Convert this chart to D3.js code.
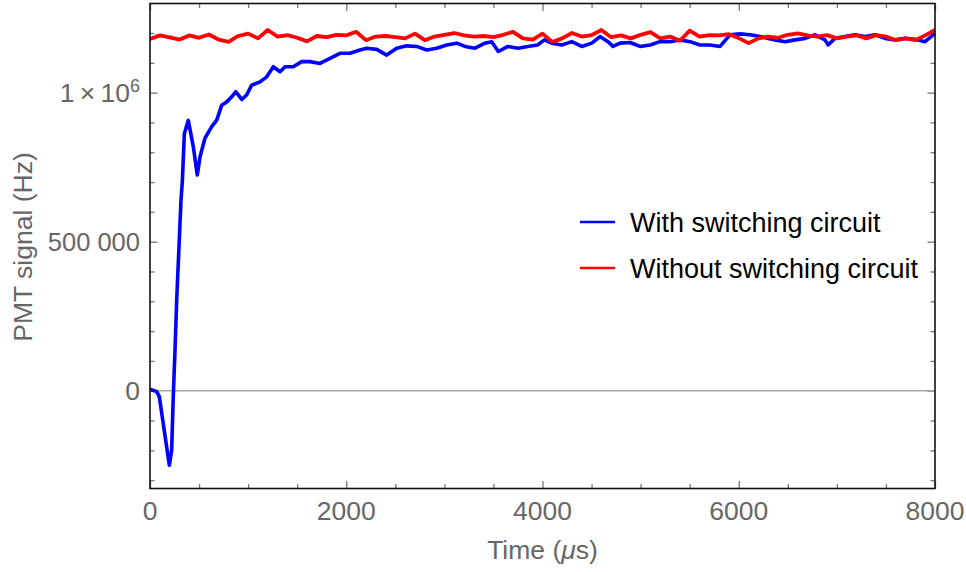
<!DOCTYPE html>
<html>
<head>
<meta charset="utf-8">
<script src="https://cdn.jsdelivr.net/npm/d3@7"></script>
<style>
  body { margin: 0; background: #fff; }
  svg { display: block; font-family: "Liberation Sans", Arial, sans-serif; }
</style>
</head>
<body>
<div id="chart"></div>
<script>
// values
const redTime = d3.range(0, 8001, 100);
const redValue = [1180, 1192, 1185, 1178, 1192, 1184, 1195, 1178, 1170, 1190,
  1198, 1182, 1210, 1188, 1193, 1184, 1172, 1190, 1186, 1194,
  1192, 1204, 1176, 1188, 1190, 1186, 1182, 1198, 1176, 1188,
  1194, 1200, 1192, 1188, 1190, 1186, 1194, 1204, 1182, 1178,
  1198, 1170, 1182, 1200, 1188, 1193, 1210, 1186, 1192, 1182,
  1194, 1203, 1182, 1188, 1174, 1208, 1188, 1193, 1192, 1196,
  1183, 1166, 1182, 1188, 1184, 1194, 1199, 1192, 1188, 1193,
  1182, 1188, 1192, 1182, 1193, 1188, 1176, 1182, 1176, 1192, 1210];

const blueTime = [0, 68, 95, 197, 221, 237, 255, 272, 316, 330, 350, 390, 441, 482, 510, 560,
  629, 680, 731, 782, 833, 873, 935, 985, 1036, 1121, 1189, 1257, 1325, 1376, 1460, 1546,
  1631, 1732, 1834, 1936, 2038, 2140, 2208, 2310, 2412, 2514, 2616, 2718, 2820, 2922,
  3024, 3126, 3210, 3312, 3414, 3482, 3550, 3648, 3750, 3850, 3950, 4020, 4094, 4196,
  4298, 4400, 4502, 4586, 4667, 4718, 4790, 4892, 4994, 5096, 5197, 5299, 5401, 5503,
  5605, 5707, 5809, 5911, 6013, 6115, 6217, 6300, 6369, 6471, 6573, 6675, 6777, 6879,
  6910, 6981, 7083, 7185, 7287, 7389, 7491, 7593, 7695, 7797, 7898, 8000];
const blueValue = [5, -3, -20, -250, -198, -20, 137, 304, 640, 705, 862, 907, 819, 724, 785, 847,
  886, 908, 958, 969, 986, 1003, 977, 992, 1025, 1036, 1053, 1087, 1070, 1087, 1087, 1104,
  1104, 1098, 1115, 1132, 1132, 1143, 1149, 1145, 1126, 1149, 1157, 1155, 1143, 1149,
  1160, 1166, 1155, 1149, 1166, 1171, 1138, 1155, 1149, 1155, 1160, 1177, 1166, 1160,
  1171, 1155, 1166, 1188, 1171, 1155, 1166, 1168, 1155, 1160, 1171, 1171, 1177, 1171,
  1160, 1160, 1155, 1194, 1197, 1194, 1188, 1182, 1177, 1171, 1177, 1182, 1194, 1177,
  1160, 1182, 1188, 1194, 1188, 1194, 1182, 1177, 1182, 1179, 1171, 1199];

const xMajor = [0, 2000, 4000, 6000, 8000];
const yMajor = [0, 500000, 1000000];
const seriesNames = ["With switching circuit", "Without switching circuit"];
const seriesColors = ["#0000ff", "#ff0000"];

const W = 966, H = 572;
const margin = {left: 150, right: 31, top: 3.5, bottom: 83.5};

const svg = d3.select("#chart").append("svg")
  .attr("width", W).attr("height", H);

const x = d3.scaleLinear().domain([0, 8000]).range([margin.left, W - margin.right]);
const y = d3.scaleLinear().domain([-328000, 1299000]).range([H - margin.bottom, margin.top]);

const tickGray = "#777";
const labelGray = "#666";
const fs = 26.5;

// minor + major ticks, drawn inward on all four sides
const xMinor = d3.range(0, 8001, 500).filter(v => v % 2000 !== 0);
const yMinor = d3.range(-300000, 1200001, 100000).filter(v => v % 500000 !== 0);

function ticks(axisFn, scale, values, size, transform) {
  const g = svg.append("g").attr("transform", transform)
    .call(axisFn(scale).tickValues(values).tickSize(size).tickFormat(""));
  g.select(".domain").remove();
  g.selectAll(".tick line").attr("stroke", tickGray).attr("stroke-width", 1.3);
  return g;
}
const bY = H - margin.bottom, tY = margin.top, lX = margin.left, rX = W - margin.right;
ticks(d3.axisBottom, x, xMinor, -4.5, `translate(0,${bY})`);
ticks(d3.axisBottom, x, xMajor, -7.5, `translate(0,${bY})`);
ticks(d3.axisTop, x, xMinor, -4.5, `translate(0,${tY})`);
ticks(d3.axisTop, x, xMajor, -7.5, `translate(0,${tY})`);
ticks(d3.axisLeft, y, yMinor, -4.5, `translate(${lX},0)`);
ticks(d3.axisLeft, y, yMajor, -7.5, `translate(${lX},0)`);
ticks(d3.axisRight, y, yMinor, -4.5, `translate(${rX},0)`);
ticks(d3.axisRight, y, yMajor, -7.5, `translate(${rX},0)`);

// tick labels
svg.append("g").selectAll("text").data(xMajor).join("text")
  .attr("x", d => x(d)).attr("y", bY + 31.5)
  .attr("text-anchor", "middle")
  .attr("font-size", fs).attr("fill", labelGray)
  .text(d => d);

const yl = svg.append("g").selectAll("text").data(yMajor).join("text")
  .attr("x", lX - 10).attr("y", d => y(d) + 9.5)
  .attr("text-anchor", "end")
  .attr("font-size", fs).attr("fill", labelGray);
yl.each(function(d) {
  const t = d3.select(this);
  if (d === 1000000) {
    t.append("tspan").text("1\u2009\u00d7\u200910");
    t.append("tspan").attr("dy", -10).attr("font-size", 18).text("6");
  } else if (d === 500000) {
    t.attr("font-size", 25.5).text("500 000");
  } else {
    t.text(d);
  }
});

// zero line
svg.append("line")
  .attr("x1", lX).attr("x2", rX)
  .attr("y1", y(0)).attr("y2", y(0))
  .attr("stroke", "#a6a6a6").attr("stroke-width", 1.5);

// series
const line = d3.line().x(d => x(d[0])).y(d => y(d[1] * 1000));
const blueData = blueTime.map((t, i) => [t, blueValue[i]]);
const redData = redTime.map((t, i) => [t, redValue[i]]);

svg.append("path").datum(blueData)
  .attr("d", line).attr("fill", "none")
  .attr("stroke", seriesColors[0]).attr("stroke-width", 3.6)
  .attr("stroke-linejoin", "round");
svg.append("path").datum(redData)
  .attr("d", line).attr("fill", "none")
  .attr("stroke", seriesColors[1]).attr("stroke-width", 3.8)
  .attr("stroke-linejoin", "round");

// frame
svg.append("rect")
  .attr("x", lX).attr("y", tY)
  .attr("width", rX - lX).attr("height", bY - tY)
  .attr("fill", "none").attr("stroke", "#111").attr("stroke-width", 1.6);

// axis titles
svg.append("text")
  .attr("x", (lX + rX) / 2).attr("y", 559)
  .attr("text-anchor", "middle").attr("font-size", fs).attr("fill", labelGray)
  .html('Time (<tspan font-style="italic">\u03bc</tspan>s)');

svg.append("text")
  .attr("transform", "translate(32,247) rotate(-90)")
  .attr("text-anchor", "middle").attr("font-size", fs).attr("fill", labelGray)
  .text("PMT signal (Hz)");

// legend
const legend = svg.append("g");
seriesNames.forEach((name, i) => {
  const ly = 222 + i * 46;
  legend.append("line")
    .attr("x1", 580).attr("x2", 615).attr("y1", ly).attr("y2", ly)
    .attr("stroke", seriesColors[i]).attr("stroke-width", 2.5);
  legend.append("text")
    .attr("x", 630).attr("y", ly + 9.5)
    .attr("font-size", 27).attr("fill", "#000")
    .text(name);
});
</script>
</body>
</html>
